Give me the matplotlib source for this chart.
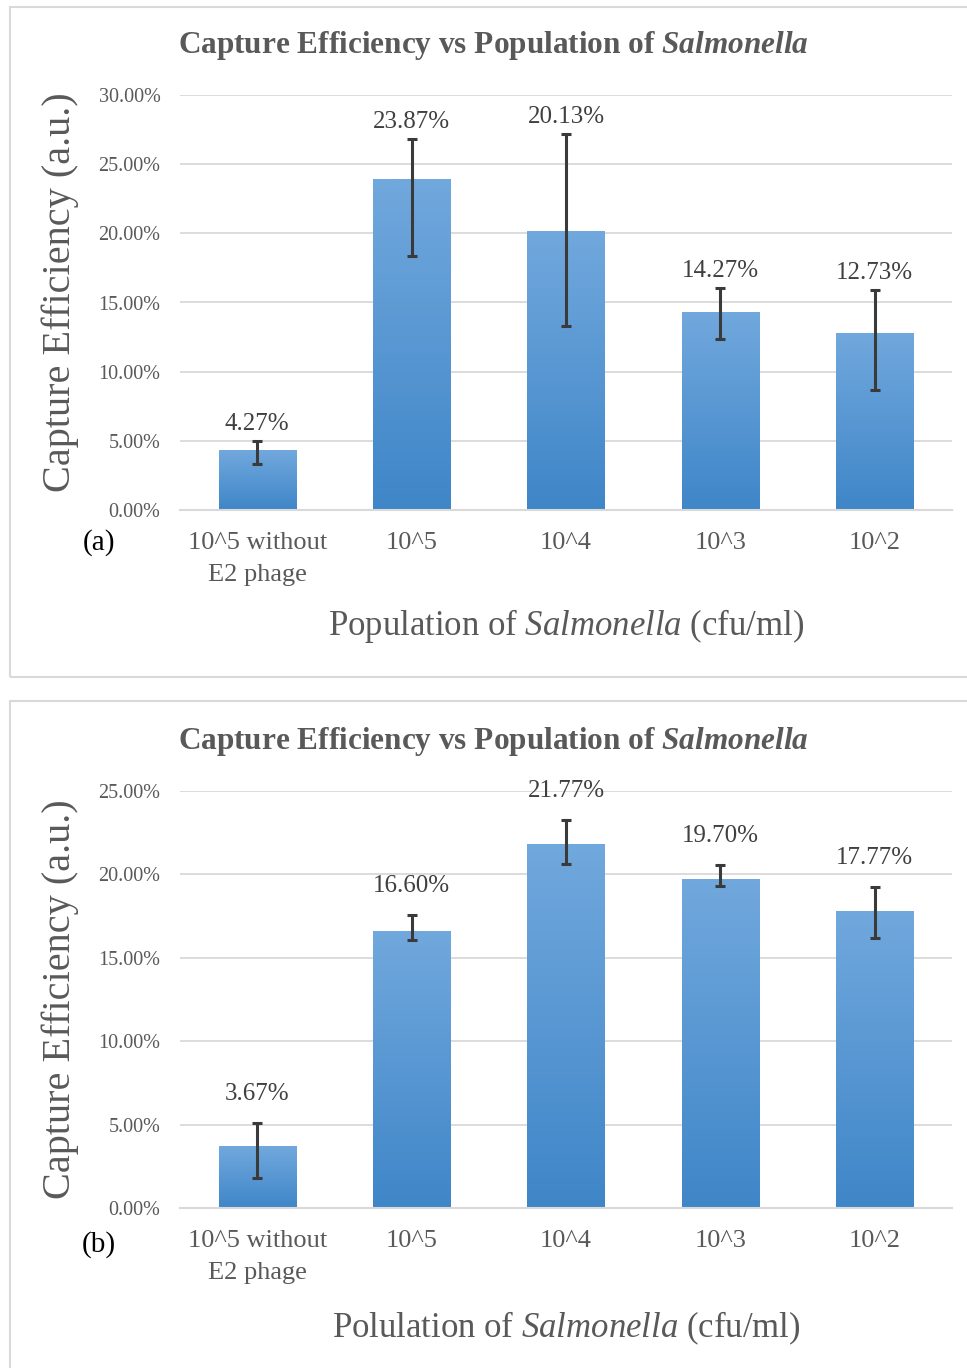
import matplotlib
matplotlib.use('Agg')

import matplotlib.pyplot as plt
import numpy as np
from matplotlib.colors import LinearSegmentedColormap
from matplotlib.patches import Rectangle

plt.rcParams['font.family'] = ['Liberation Serif', 'DejaVu Serif']
plt.rcParams['mathtext.fontset'] = 'custom'
plt.rcParams['mathtext.rm'] = 'Liberation Serif'
plt.rcParams['mathtext.it'] = 'Liberation Serif:italic'
plt.rcParams['mathtext.bf'] = 'Liberation Serif:bold'
plt.rcParams['mathtext.bfit'] = 'Liberation Serif:italic:bold'

categories = ['10^5 without\nE2 phage', '10^5', '10^4', '10^3', '10^2']

# panel (a)
values_a = [4.27, 23.87, 20.13, 14.27, 12.73]
err_low_a = [0.94, 5.50, 6.80, 1.93, 4.05]
err_up_a = [0.72, 2.95, 7.06, 1.80, 3.17]
yticks_a = [0, 5, 10, 15, 20, 25, 30]

# panel (b)
values_b = [3.67, 16.60, 21.77, 19.70, 17.77]
err_low_b = [1.90, 0.53, 1.17, 0.38, 1.56]
err_up_b = [1.41, 0.97, 1.49, 0.86, 1.46]
yticks_b = [0, 5, 10, 15, 20, 25]

TXT = '#595959'
LBL = '#404040'
GRID = '#d9d9d9'
cmap = LinearSegmentedColormap.from_list('bar', ['#3f86c8', '#71a8dd'])
grad = np.linspace(0, 1, 256).reshape(-1, 1)

W, H = 967, 1368
fig = plt.figure(figsize=(W / 100, H / 100), dpi=100)


def fx(px):
    return px / W


def fy(py):
    return 1 - py / H


def panel(rect, values, lo, up, yticks, label_off, xlabel, tag, tag_y, title_y, ylab_y):
    ax = fig.add_axes(rect)
    x = np.arange(len(values))
    bars = ax.bar(x, values, width=0.5, color='none', zorder=2)
    for r in bars:
        x0, w, h = r.get_x(), r.get_width(), r.get_height()
        ax.imshow(grad, extent=(x0, x0 + w, 0, h), origin='lower', cmap=cmap,
                  aspect='auto', zorder=2)
    ax.errorbar(x, values, yerr=[lo, up], fmt='none', ecolor='#3a3a3a',
                elinewidth=2.2, capsize=3.5, capthick=2.2, zorder=3)
    for xi, v, u in zip(x, values, up):
        ax.annotate(f'{v:.2f}%', (xi, v + u), xytext=(0, label_off),
                    textcoords='offset points', ha='center', va='center',
                    fontsize=18, color=LBL)
    ax.set_xlim(-0.5, len(values) - 0.5)
    ax.set_ylim(yticks[0], yticks[-1])
    ax.set_yticks(yticks)
    ax.set_yticklabels([f'{t:.2f}%' for t in yticks])
    ax.set_xticks(x)
    ax.set_xticklabels(categories, linespacing=1.6)
    ax.tick_params(axis='y', length=0, pad=14, labelsize=14.5, labelcolor=TXT)
    ax.tick_params(axis='x', length=0, pad=16, labelsize=19, labelcolor=TXT)
    ax.grid(axis='y', color=GRID, linewidth=1.3, zorder=0)
    ax.set_axisbelow(True)
    for s in ['top', 'right', 'left']:
        ax.spines[s].set_visible(False)
    ax.spines['bottom'].set_color(GRID)
    ax.spines['bottom'].set_linewidth(1.5)

    fig.text(fx(493), fy(title_y),
             r'Capture Efficiency vs Population of $\mathbfit{Salmonella}$',
             ha='center', va='center', fontsize=22.5, fontweight='bold', color=TXT)
    fig.text(fx(566), fy(tag_y + 83), xlabel, ha='center', va='center',
             fontsize=25, color=TXT)
    fig.text(fx(60), fy(ylab_y), 'Capture Efficiency (a.u.)', rotation=90,
             ha='center', va='center', fontsize=29, color=TXT)
    fig.text(fx(99), fy(tag_y), tag, ha='center', va='center',
             fontsize=21, color='black')
    return ax


panel([fx(180), fy(510), fx(952) - fx(180), fy(95) - fy(510)],
      values_a, err_low_a, err_up_a, yticks_a, 12,
      r'Population of $\mathit{Salmonella}$ (cfu/ml)', '(a)', 543, 46, 292)
panel([fx(180), fy(1208), fx(952) - fx(180), fy(791) - fy(1208)],
      values_b, err_low_b, err_up_b, yticks_b, 21,
      r'Polulation of $\mathit{Salmonella}$ (cfu/ml)', '(b)', 1245, 742, 999)

# panel borders
fig.add_artist(Rectangle((fx(10), fy(677)), 1.0, fy(7) - fy(677),
                         transform=fig.transFigure, fill=False,
                         edgecolor=GRID, linewidth=1.5))
fig.add_artist(Rectangle((fx(10), -0.01), 1.0, fy(701) + 0.01,
                         transform=fig.transFigure, fill=False,
                         edgecolor=GRID, linewidth=1.5))

fig.savefig('out.png', dpi=100)
plt.close(fig)
